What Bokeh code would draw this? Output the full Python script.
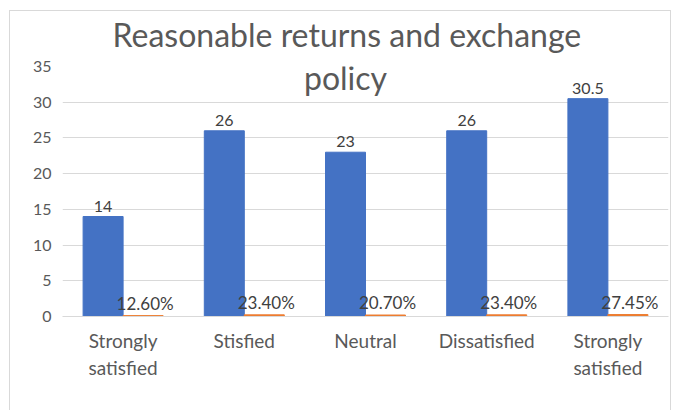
from bokeh.plotting import figure
from bokeh.models import ColumnDataSource, Label, FixedTicker, Range1d, Title
from bokeh.core.properties import value
from bokeh.embed import file_html
from bokeh.resources import INLINE

categories = ["Strongly\nsatisfied", "Stisfied", "Neutral", "Dissatisfied", "Strongly\nsatisfied"]
counts = [14, 26, 23, 26, 30.5]
shares = [0.126, 0.234, 0.207, 0.234, 0.2745]
count_labels = ["14", "26", "23", "26", "30.5"]
share_labels = ["12.60%", "23.40%", "20.70%", "23.40%", "27.45%"]
y_ticks = [0, 5, 10, 15, 20, 25, 30, 35]
title_lines = ["Reasonable returns and exchange", "policy"]

FONT = "Lato"
GRAY = "#595959"

idx = list(range(len(categories)))
bw = 0.33
src = ColumnDataSource(dict(
    xb=[i - bw / 2 for i in idx],
    xo=[i + bw / 2 for i in idx],
    counts=counts, shares=shares,
    cl=count_labels, sl=share_labels,
))

p = figure(width=674, height=410, output_backend="svg", toolbar_location=None,
           x_range=Range1d(-0.5, 4.5), y_range=Range1d(0, 35),
           min_border_left=62, min_border_right=6, min_border_top=66, min_border_bottom=94,
           frame_width=606, frame_height=250)
p.outline_line_color = None
p.background_fill_color = "white"
p.border_fill_color = None
line = "linear-gradient(#d9d9d9,#d9d9d9)"
p.styles = {
    "background": (f"{line} 9px 10px / 1px 400px no-repeat, "
                   f"{line} 9px 10px / 662px 1px no-repeat, "
                   f"{line} 670px 10px / 1px 400px no-repeat, white"),
}

p.title = Title(text=title_lines[0], align="left", text_font=FONT, text_font_size="32px",
                text_color=GRAY, text_font_style="normal", standoff=25, offset=50)

p.vbar(x="xb", top="counts", width=bw, bottom=0, source=src, color="#4472C4")
p.vbar(x="xo", top="shares", width=bw, bottom=0, source=src, color="#ED7D31")

p.text(x="xo", y="shares", text="sl", source=src, text_align="center", text_baseline="bottom",
       x_offset=2, y_offset=-2, text_font=value(FONT), text_font_size="17px", text_color="#404040")
p.text(x="xb", y="counts", text="cl", source=src, text_align="center", text_baseline="bottom",
       y_offset=-5, text_font=value(FONT), text_font_size="16px", text_color="#404040")

p.xgrid.grid_line_color = None
p.ygrid.grid_line_color = "#d9d9d9"
p.ygrid.ticker = FixedTicker(ticks=y_ticks)

p.yaxis.ticker = FixedTicker(ticks=y_ticks)
p.yaxis.axis_line_color = None
p.yaxis.major_tick_line_color = None
p.yaxis.minor_tick_line_color = None
p.yaxis.major_label_standoff = 5
p.yaxis.major_label_text_font = FONT
p.yaxis.major_label_text_font_size = "16px"
p.yaxis.major_label_text_color = GRAY

p.xaxis.ticker = FixedTicker(ticks=idx)
p.xaxis.major_label_overrides = {i: c for i, c in zip(idx, categories)}
p.xaxis.axis_line_color = "#d9d9d9"
p.xaxis.major_tick_line_color = None
p.xaxis.minor_tick_line_color = None
p.xaxis.major_label_standoff = 6
p.xaxis.major_label_text_font = FONT
p.xaxis.major_label_text_font_size = "19px"
p.xaxis.major_label_text_color = GRAY
p.xaxis.major_label_text_line_height = 1.2

p.add_layout(Label(x=1.835, y=33.5, text=title_lines[1], text_align="center", text_baseline="middle",
                   text_font=FONT, text_font_size="32px", text_color=GRAY))

open("out.html", "w").write(file_html(p, INLINE))
